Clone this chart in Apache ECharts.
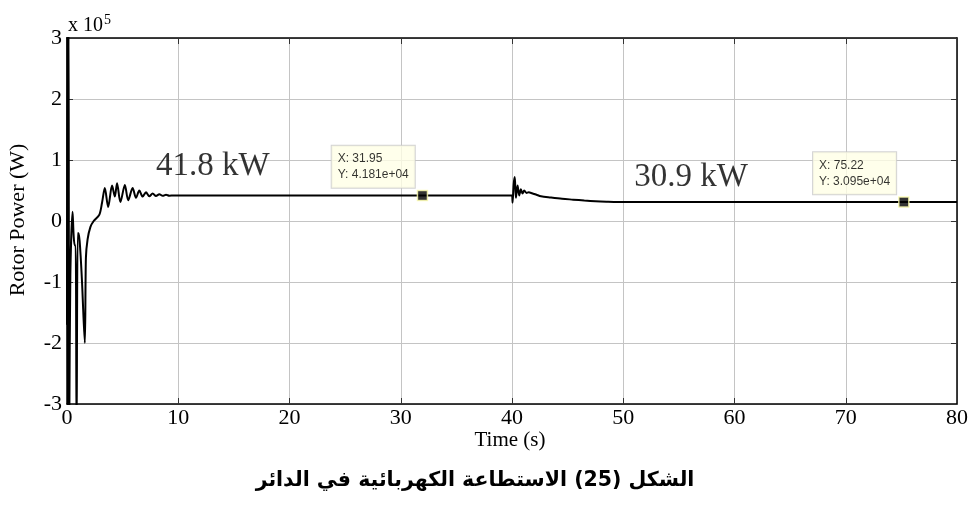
<!DOCTYPE html>
<html>
<head>
<meta charset="utf-8">
<script src="https://cdn.jsdelivr.net/npm/echarts@6/dist/echarts.min.js"></script>
<style>
  html, body { margin: 0; padding: 0; background: #fff; }
  #chart { width: 974px; height: 505px; }
</style>
</head>
<body>
<div id="chart"></div>
<script>
// Rotor power of the machine over the simulation time (W)
const timeS = [
  0, 0.03, 0.08, 0.14, 0.2, 0.3, 0.5, 0.6, 0.7, 0.78, 0.86, 0.96,
  1.05, 1.2, 1.35, 1.6, 1.7, 1.85, 2.1, 2.4, 2.9, 3.15, 3.4, 3.7,
  4.05, 4.3, 4.5, 4.8, 5.2, 5.5, 5.9, 6.2, 6.5, 6.8, 7.1, 7.4, 7.7,
  8.0, 8.3, 8.6, 8.9, 9.2, 9.6, 20, 31.95, 40.0,
  40.05, 40.15, 40.25, 40.35, 40.5, 40.65, 40.8, 40.95, 41.1, 41.3,
  41.5, 41.8, 42.2, 42.6, 43.5, 44.5, 45.5, 46.5, 47.5, 48.5, 49.5,
  60, 75.22, 80
];
const powerW = [
  -170000, 360000, -360000, 360000, -360000, -90000, 15000, -25000, -40000, -40000, -360000, -20000,
  -20000, -50000, -100000, -200000, -60000, -30000, -10000, 0, 10000, 30000, 54000, 23000,
  58000, 40000, 62000, 31000, 59000, 34000, 54000, 38000, 50000, 40000, 47000, 40500, 45000,
  41000, 44000, 41200, 43000, 41500, 41810, 41810, 41810, 41810,
  30000, 60000, 72000, 38000, 58000, 42000, 52000, 45000, 50000, 46000,
  47000, 45500, 43000, 40500, 38500, 36500, 35000, 33500, 32300, 31500, 31000,
  30950, 30950, 30950
];

// Data cursors placed on the curve
const tipT = [31.95, 75.22];
const tipP = [41810, 30950];

// Steady-state annotations and where they sit (s, W)
const steadyText = ['41.8 kW', '30.9 kW'];
const steadyT = [13.1, 56.1];
const steadyP = [41810, 30950];

const xTicks = { min: 0, max: 80, interval: 10 };
const yTicks = { min: -300000, max: 300000, interval: 100000 };

const serif = 'Liberation Serif, Times New Roman, serif';
const sans = 'Liberation Sans, Arial, sans-serif';

const chart = echarts.init(document.getElementById('chart'));

const gridLine = { show: true, lineStyle: { color: '#c4c4c4', width: 1 } };
const frameLine = { show: true, onZero: false, lineStyle: { color: '#000', width: 1.5 } };
const tickIn = { show: true, inside: true, length: 6, lineStyle: { color: '#333', width: 1 } };

chart.setOption({
  animation: false,
  backgroundColor: '#fff',
  grid: { left: 67, right: 17, top: 38, bottom: 101 },
  xAxis: [
    {
      type: 'value', position: 'bottom', ...xTicks,
      axisLine: frameLine, axisTick: tickIn, splitLine: gridLine,
      axisLabel: { color: '#000', fontFamily: serif, fontSize: 22, margin: 3 }
    },
    {
      type: 'value', position: 'top', ...xTicks,
      axisLine: frameLine, axisTick: tickIn, splitLine: { show: false },
      axisLabel: { show: false }
    }
  ],
  yAxis: [
    {
      type: 'value', position: 'left', ...yTicks,
      axisLine: frameLine, axisTick: tickIn, splitLine: gridLine,
      axisLabel: {
        color: '#000', fontFamily: serif, fontSize: 22, margin: 5,
        formatter: v => String(Math.round(v / 1e5))
      }
    },
    {
      type: 'value', position: 'right', ...yTicks,
      axisLine: frameLine, axisTick: tickIn, splitLine: { show: false },
      axisLabel: { show: false }
    }
  ],
  series: [
    {
      type: 'line',
      data: timeS.map((t, i) => [t, powerW[i]]),
      showSymbol: false,
      smooth: 0.3,
      clip: true,
      lineStyle: { color: '#000', width: 2 },
      z: 3
    },
    {
      type: 'scatter',
      data: tipT.map((t, i) => [t, tipP[i]]),
      symbol: 'rect',
      symbolSize: 10,
      itemStyle: { color: '#000', borderColor: '#ffffb0', borderWidth: 1.5 },
      label: {
        show: true,
        position: [-85, -44],
        align: 'left',
        verticalAlign: 'top',
        formatter: p => 'X: ' + p.value[0].toFixed(2) + '\nY: ' + p.value[1].toExponential(3).replace('e+', 'e+0'),
        fontFamily: sans,
        fontSize: 12,
        lineHeight: 16,
        color: '#000',
        backgroundColor: '#ffffe6',
        borderColor: '#c8c8c8',
        borderWidth: 1,
        padding: [5, 6, 5, 6]
      },
      z: 5
    },
    {
      type: 'scatter',
      data: steadyT.map((t, i) => ({
        value: [t, steadyP[i]],
        name: steadyText[i],
        label: { offset: [0, i === 0 ? -29 : -25] }
      })),
      symbolSize: 0,
      silent: true,
      label: {
        show: true,
        position: 'inside',
        formatter: p => p.name,
        fontFamily: serif,
        fontSize: 33,
        color: '#000',
        textBorderWidth: 0
      },
      z: 4
    }
  ],
  graphic: [
    {
      type: 'text', left: 68, top: 13,
      style: {
        text: '{a|x 10}{b|5}',
        rich: {
          a: { fontFamily: serif, fontSize: 20, fill: '#000' },
          b: { fontFamily: serif, fontSize: 14, fill: '#000', padding: [0, 0, 12, 1] }
        }
      }
    },
    {
      type: 'text', x: 18, y: 220, rotation: Math.PI / 2,
      style: {
        text: 'Rotor Power (W)', fontFamily: serif, fontSize: 22, fill: '#000',
        align: 'center', verticalAlign: 'middle'
      }
    },
    {
      type: 'text', x: 510, y: 440,
      style: {
        text: 'Time (s)', fontFamily: serif, fontSize: 21, fill: '#000',
        align: 'center', verticalAlign: 'middle'
      }
    },
    {
      type: 'text', x: 475, y: 481,
      style: {
        text: 'الشكل (25) الاستطاعة الكهربائية في الدائر',
        fontFamily: 'DejaVu Sans, sans-serif', fontWeight: 'bold', fontSize: 20.5, fill: '#000',
        align: 'center', verticalAlign: 'middle'
      }
    }
  ]
});
</script>
</body>
</html>
